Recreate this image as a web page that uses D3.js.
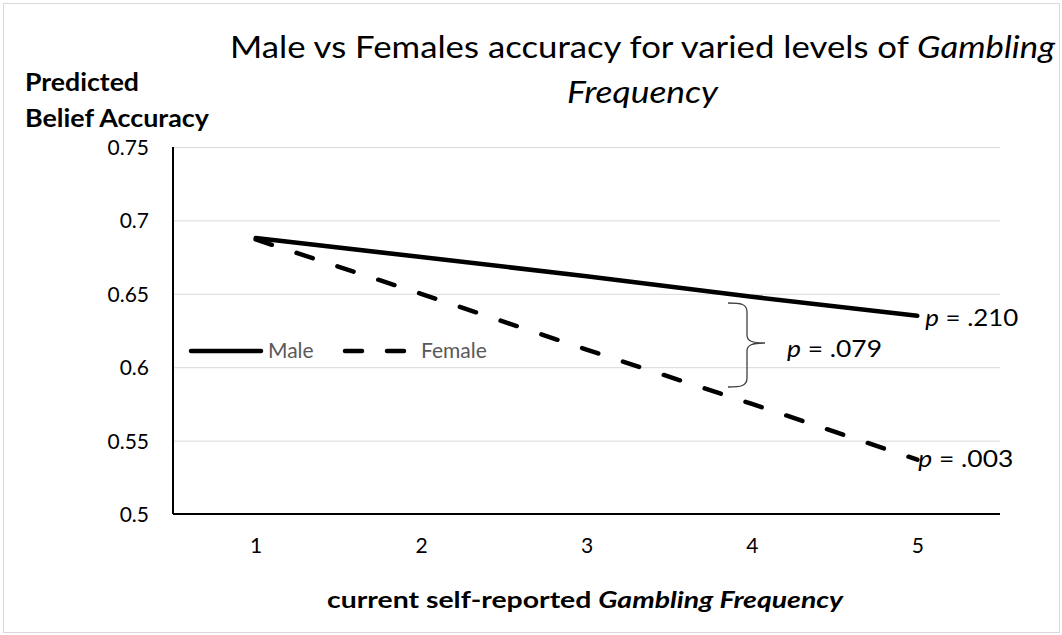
<!DOCTYPE html>
<html>
<head>
<meta charset="utf-8">
<script src="https://cdn.jsdelivr.net/npm/d3@7"></script>
<style>
  html, body { margin: 0; padding: 0; background: #fff; }
  svg { display: block; font-family: Lato, "Open Sans", sans-serif; }
</style>
</head>
<body>
<svg id="chart" width="1062" height="635"></svg>
<script>
// ---- data ----
const categories = [1, 2, 3, 4, 5];
const maleValues = [0.688, 0.675, 0.662, 0.648, 0.635];
const femaleValues = [0.687, 0.650, 0.612, 0.575, 0.537];
const yTickValues = [0.5, 0.55, 0.6, 0.65, 0.7, 0.75];
const seriesNames = ["Male", "Female"];
const pLabels = [".210", ".003"];
const diffLabel = ".079";

const W = 1062, H = 635;
const svg = d3.select("#chart");

// outer border
svg.append("rect").attr("x", 3.5).attr("y", 3.5).attr("width", W - 6).attr("height", H - 6)
  .attr("fill", "#fff").attr("stroke", "#d9d9d9").attr("stroke-width", 1);

const plot = { left: 173, right: 1000, top: 147, bottom: 514 };
const x = d3.scalePoint().domain(categories).range([plot.left, plot.right]).padding(0.5);
const y = d3.scaleLinear().domain([0.5, 0.75]).range([plot.bottom, plot.top]);

// gridlines
const grid = svg.append("g").attr("transform", `translate(${plot.left},0)`)
  .call(d3.axisLeft(y).tickValues(yTickValues).tickSize(-(plot.right - plot.left)).tickFormat(""));
grid.select(".domain").remove();
grid.selectAll("line").attr("stroke", "#d9d9d9").attr("stroke-width", 1);

// y axis labels
const yAxis = svg.append("g").attr("transform", `translate(${plot.left - 24},0)`)
  .call(d3.axisLeft(y).tickValues(yTickValues).tickSize(0).tickPadding(0).tickFormat(d => String(d)));
yAxis.select(".domain").remove();
yAxis.selectAll("text").attr("font-size", 21).attr("fill", "#000").attr("font-family", "Lato, sans-serif")
  .attr("dy", "0.36em");

// x axis labels
const xAxis = svg.append("g").attr("transform", `translate(0,${plot.bottom})`)
  .call(d3.axisBottom(x).tickSize(0).tickPadding(0).tickFormat(d => String(d)));
xAxis.select(".domain").remove();
xAxis.selectAll("text").attr("font-size", 21).attr("fill", "#000").attr("font-family", "Lato, sans-serif")
  .attr("dy", null).attr("y", 39);

// axis lines
svg.append("line").attr("x1", plot.left).attr("x2", plot.left).attr("y1", plot.top).attr("y2", plot.bottom)
  .attr("stroke", "#000").attr("stroke-width", 2);
svg.append("line").attr("x1", plot.left).attr("x2", plot.right).attr("y1", plot.bottom).attr("y2", plot.bottom)
  .attr("stroke", "#000").attr("stroke-width", 2);

// lines
const line = d3.line().x((d, i) => x(categories[i])).y(d => y(d));
svg.append("path").datum(maleValues).attr("d", line).attr("fill", "none")
  .attr("stroke", "#000").attr("stroke-width", 4.5).attr("stroke-linecap", "round");
svg.append("path").datum(femaleValues).attr("d", line).attr("fill", "none")
  .attr("stroke", "#000").attr("stroke-width", 4.5).attr("stroke-linecap", "round")
  .attr("stroke-dasharray", "17,26");

// legend
const lg = svg.append("g");
lg.append("line").attr("x1", 191).attr("x2", 261).attr("y1", 351).attr("y2", 351)
  .attr("stroke", "#000").attr("stroke-width", 4.5).attr("stroke-linecap", "round");
lg.append("text").attr("x", 268).attr("y", 358).attr("font-size", 21).attr("fill", "#595959").text(seriesNames[0]);
lg.append("line").attr("x1", 345).attr("x2", 406).attr("y1", 351).attr("y2", 351)
  .attr("stroke", "#000").attr("stroke-width", 4.5).attr("stroke-linecap", "round")
  .attr("stroke-dasharray", "17,25");
lg.append("text").attr("x", 421).attr("y", 358).attr("font-size", 21).attr("fill", "#595959").text(seriesNames[1]);

// p labels
function pText(px, py, val, width) {
  const t = svg.append("text").attr("x", px).attr("y", py).attr("font-size", 24).attr("fill", "#000");
  t.append("tspan").attr("font-style", "italic").text("p");
  t.append("tspan").text(" = " + val);
  t.attr("textLength", width).attr("lengthAdjust", "spacingAndGlyphs");
}
pText(x(5) + 8, y(maleValues[4]) + 10, pLabels[0], 93);
pText(x(5) + 1, y(femaleValues[4]) + 7, pLabels[1], 95);
pText(787, 357, diffLabel, 95);

// brace
svg.append("path")
  .attr("d", "M728,303 C741,303 747,304 747,312 L747,335 C747,341 752,343 765,343 M765,343 C752,343 747,345 747,351 L747,378 C747,386 741,387 728,387")
  .attr("fill", "none").attr("stroke", "#404040").attr("stroke-width", 1.3);

// title
const title = svg.append("g").attr("font-size", 30).attr("fill", "#000");
const t1 = title.append("text").attr("x", 230).attr("y", 58)
  .attr("textLength", 825).attr("lengthAdjust", "spacingAndGlyphs");
t1.append("tspan").text("Male vs Females accuracy for varied levels of ");
t1.append("tspan").attr("font-style", "italic").text("Gambling");
title.append("text").attr("x", 567).attr("y", 103).attr("font-style", "italic")
  .attr("textLength", 151).attr("lengthAdjust", "spacingAndGlyphs").text("Frequency");

// y axis title
svg.append("text").attr("x", 25).attr("y", 91).attr("font-size", 24).attr("font-weight", "bold")
  .attr("textLength", 114).attr("lengthAdjust", "spacingAndGlyphs").text("Predicted");
svg.append("text").attr("x", 25).attr("y", 127).attr("font-size", 24).attr("font-weight", "bold")
  .attr("textLength", 184).attr("lengthAdjust", "spacingAndGlyphs").text("Belief Accuracy");

// x axis title
const xt = svg.append("text").attr("x", 327).attr("y", 608).attr("font-size", 23).attr("font-weight", "bold")
  .attr("textLength", 516).attr("lengthAdjust", "spacingAndGlyphs");
xt.append("tspan").text("current self-reported ");
xt.append("tspan").attr("font-style", "italic").text("Gambling Frequency");
</script>
</body>
</html>
